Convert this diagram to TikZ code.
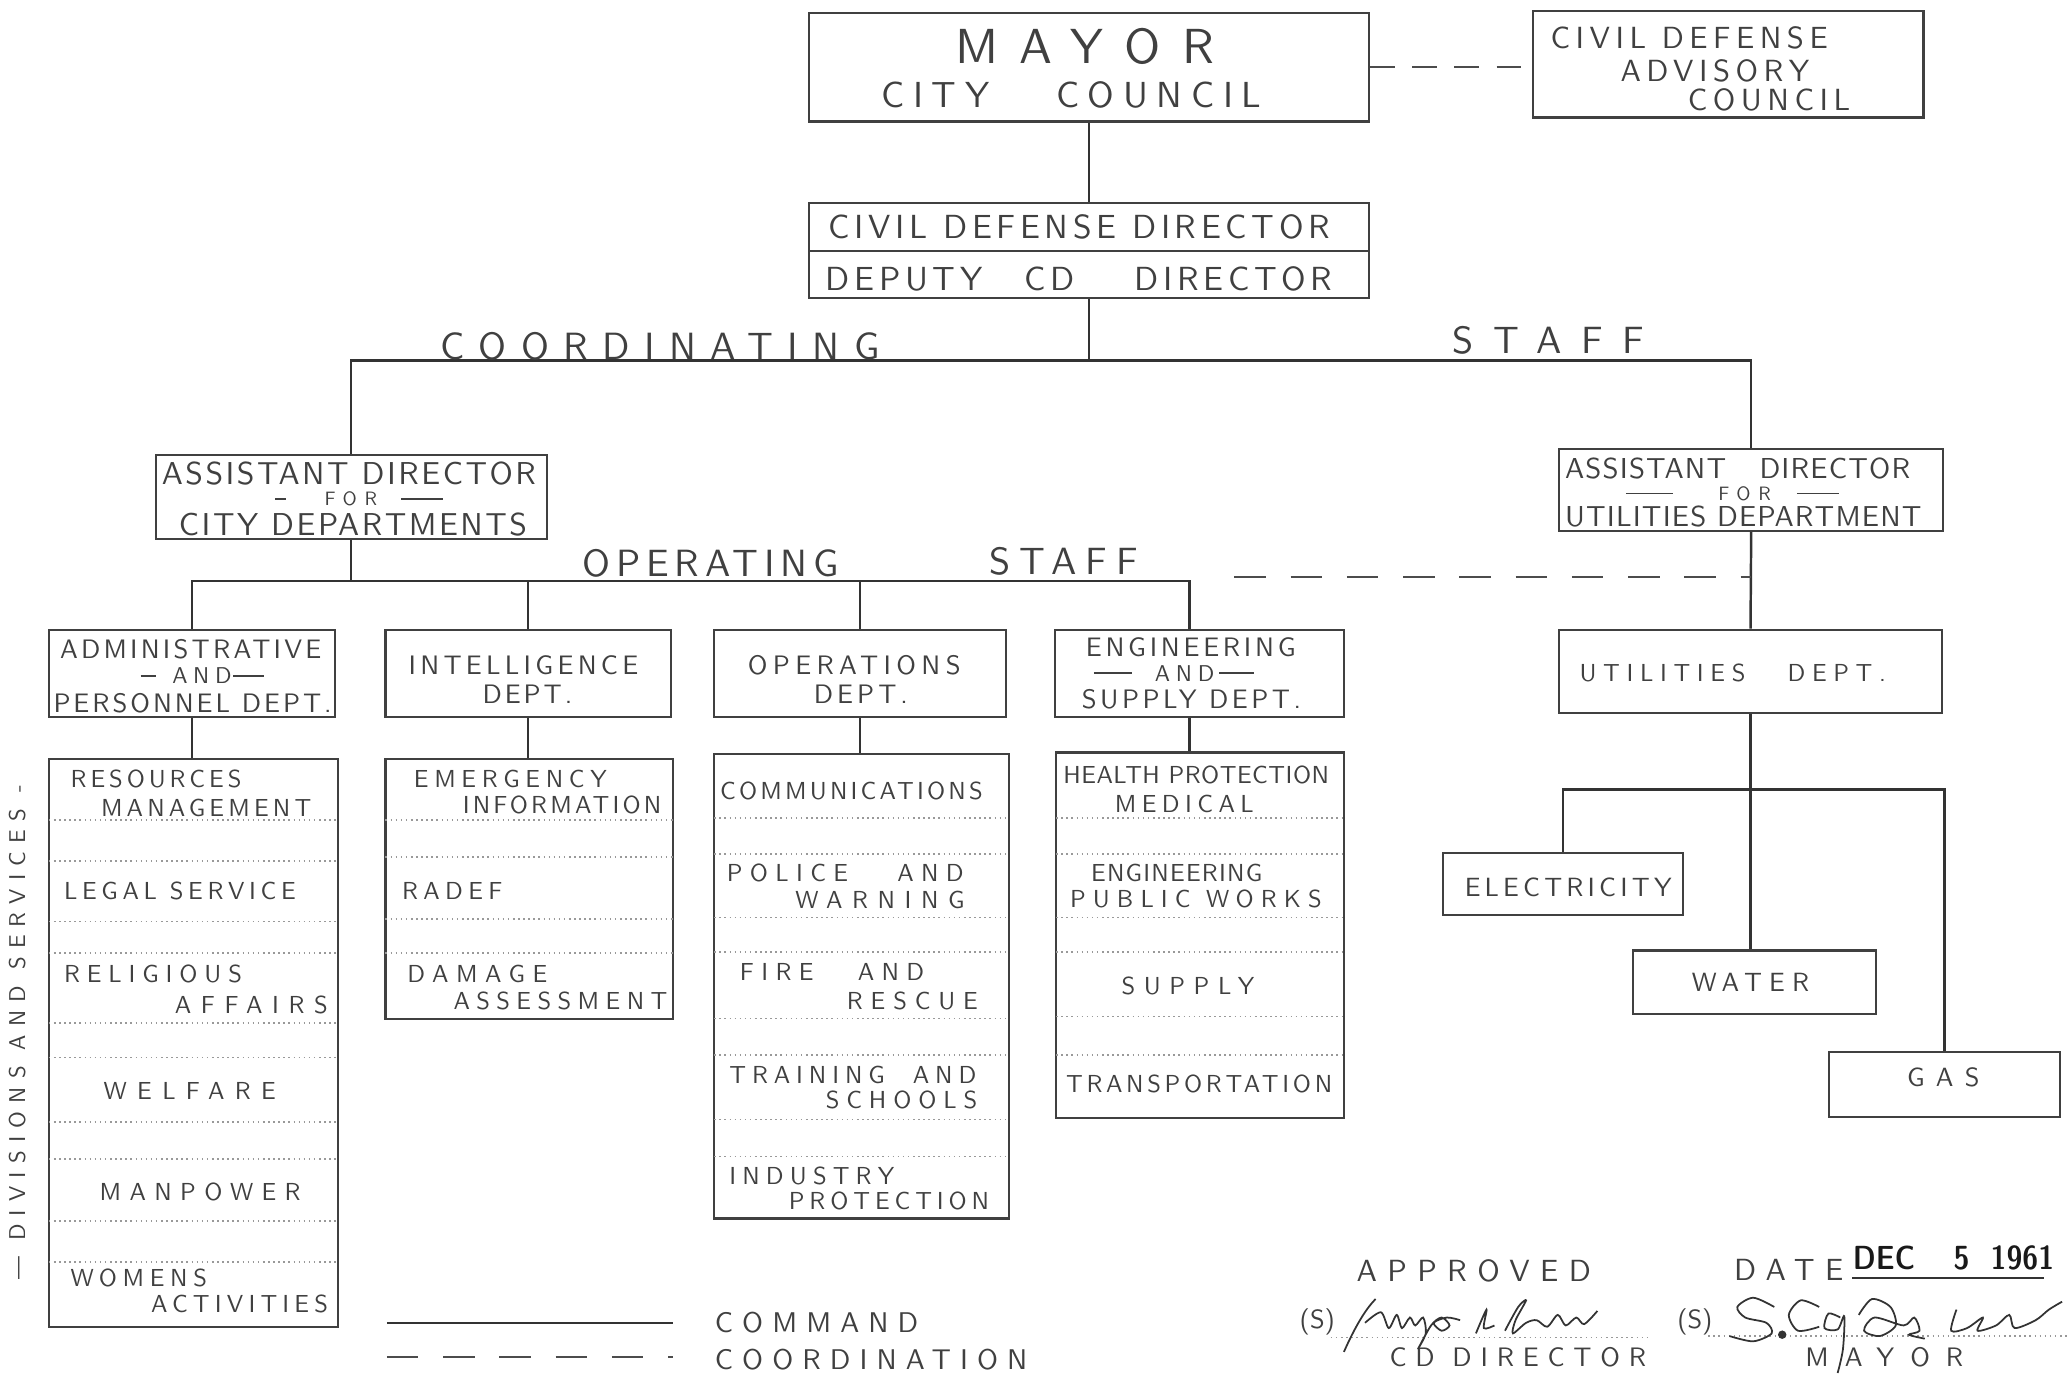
\documentclass[tikz,border=0pt]{standalone}
\usepackage{fontspec}
\newfontfamily\lettering{lmsans10-regular.otf}
\newfontfamily\stampfont{lmsansdemicond10-regular.otf}
\newcommand\sidedash[1]{\rule[0.32em]{#1}{0.45pt}}

\tikzset{
  box/.style={draw=black!75, line width=0.6pt, inner sep=0pt},
  cmd/.style={draw=black!80, line width=0.7pt},
  coordn/.style={draw=black!70, line width=0.6pt, dash pattern=on 9pt off 7pt},
  rule/.style={draw=black!40, line width=0.45pt, densely dotted},
  sig/.style={draw=black!80, line width=0.5pt},
  lbl/.style 2 args={inner sep=0pt, anchor=west, text=black!75,
    font=\lettering\fontsize{#1}{#1}\selectfont\addfontfeatures{LetterSpace=#2}},
}

\begin{document}
\begin{tikzpicture}[x=0.0132cm, y=-0.0132cm]
    \useasboundingbox (0,0) rectangle (1568,1045);

    % top boxes
    \node[box, minimum width=5.597cm, minimum height=1.082cm] (mayor) at (825,51) {};
    \node[box, minimum width=3.907cm, minimum height=1.069cm] (advisory) at (1309,48.5) {};
    \node[box, minimum width=5.597cm, minimum height=0.950cm] (cddir) at (825,190) {};
    \draw[box] (cddir.west) -- (cddir.east);
    \node[box, minimum width=3.907cm, minimum height=0.832cm] (asstcity) at (266,376.5) {};
    \node[box, minimum width=3.841cm, minimum height=0.818cm] (asstutil) at (1326.5,371) {};

    % departments
    \node[box, minimum width=2.864cm, minimum height=0.871cm] (admin) at (145.5,510) {};
    \node[box, minimum width=2.851cm, minimum height=0.871cm] (intel) at (400,510) {};
    \node[box, minimum width=2.917cm, minimum height=0.871cm] (ops) at (651.5,510) {};
    \node[box, minimum width=2.891cm, minimum height=0.871cm] (eng) at (908.5,510) {};
    \node[box, minimum width=3.828cm, minimum height=0.832cm] (utildept) at (1326,508.5) {};
    \node[box, minimum width=2.402cm, minimum height=0.620cm] (elec) at (1184,669.5) {};
    \node[box, minimum width=2.429cm, minimum height=0.634cm] (water) at (1329,744) {};
    \node[box, minimum width=2.310cm, minimum height=0.647cm] (gas) at (1473,821.5) {};

    % divisions and services
    \node[box, minimum width=2.891cm, minimum height=5.676cm] (admincol) at (146.5,790) {};
    \node[box, minimum width=2.878cm, minimum height=2.600cm] (intelcol) at (401,673.5) {};
    \node[box, minimum width=2.944cm, minimum height=4.646cm] (opscol) at (652.5,747) {};
    \node[box, minimum width=2.878cm, minimum height=3.656cm] (engcol) at (909,708.5) {};
    \draw[rule] (37,621) -- (256,621) (37,652) -- (256,652) (37,698) -- (256,698)
        (37,722) -- (256,722) (37,775) -- (256,775) (37,801) -- (256,801)
        (37,850) -- (256,850) (37,878) -- (256,878) (37,925) -- (256,925) (37,956) -- (256,956);
    \draw[rule] (292,621) -- (510,621) (292,649) -- (510,649) (292,696) -- (510,696) (292,722) -- (510,722);
    \draw[rule] (541,619.5) -- (764,619.5) (541,647) -- (764,647) (541,695) -- (764,695)
        (541,721) -- (764,721) (541,771.5) -- (764,771.5) (541,799) -- (764,799)
        (541,848) -- (764,848) (541,876) -- (764,876);
    \draw[rule] (800,619.5) -- (1018,619.5) (800,647) -- (1018,647) (800,695) -- (1018,695)
        (800,721) -- (1018,721) (800,770) -- (1018,770) (800,799) -- (1018,799);

    % command lines
    \coordinate (cbar) at (825,273);
    \coordinate (obar) at (266,440);
    \coordinate (ubar) at (1326,598);
    \draw[cmd] (mayor.south) -- (cddir.north);
    \draw[cmd] (cddir.south) -- (cbar);
    \draw[cmd] (asstcity.north) |- (cbar) -| (asstutil.north);
    \draw[cmd] (asstcity.south) -- (obar);
    \draw[cmd] (admin.north) |- (obar) -| ([xshift=-0.1cm]eng.north);
    \draw[cmd] (intel.north) -- (intel.north |- obar);
    \draw[cmd] (ops.north) -- (ops.north |- obar);
    \draw[cmd] (admin.south) -- (admin.south |- admincol.north);
    \draw[cmd] (intel.south) -- (intel.south |- intelcol.north);
    \draw[cmd] (ops.south) -- (ops.south |- opscol.north);
    \draw[cmd] ([xshift=-0.1cm]eng.south) -- ([xshift=-0.1cm]eng.south |- engcol.north);
    \draw[cmd] (asstutil.south) -- (utildept.north);
    \draw[cmd] (utildept.south) -- (utildept.south |- water.north);
    \draw[cmd] (elec.north) |- (ubar) -| (gas.north);

    % coordination lines
    \coordinate (ostart) at (935,437);
    \draw[coordn, dash pattern=on 7pt off 5pt] (mayor.east) -- (mayor.east -| advisory.west);
    \draw[coordn] (ostart) -- (ostart -| asstutil.south);

    % labels
    \node[lbl={14}{44}] (tmayor) at (723,35) {MAYOR};
    \node[lbl={10.3}{24}] (tcouncil) at (667,72) {CITY\hspace{19pt}COUNCIL};
    \node[lbl={8.7}{18}] (tadvA) at (1174,29) {CIVIL DEFENSE};
    \node[lbl={8.7}{18}] (tadvB) at (1227,54) {ADVISORY};
    \node[lbl={8.7}{18}] (tadvC) at (1278,76) {COUNCIL};
    \node[lbl={9.5}{14}] (tdir) at (627,172) {CIVIL DEFENSE DIRECTOR};
    \node[lbl={9.5}{14}] (tdep) at (625,211) {DEPUTY\hspace{12pt}CD\hspace{17pt}DIRECTOR};
    \node[lbl={10.8}{38}] (tcoord) at (333,262) {COORDINATING};
    \node[lbl={10.8}{52}] (tstaffA) at (1100,258) {STAFF};
    \node[lbl={9}{8}] (tacA) at (122,359) {ASSISTANT DIRECTOR};
    \node[lbl={5.5}{40}] (tacB) at (208,378) {\sidedash{3pt}\hspace{11pt}FOR\hspace{6.8pt}\sidedash{12pt}};
    \node[lbl={9}{8}] (tacC) at (135,397) {CITY DEPARTMENTS};
    \node[lbl={8.2}{4}] (tauA) at (1185,355) {ASSISTANT\hspace{9.5pt}DIRECTOR};
    \node[lbl={5.5}{40}] (tauB) at (1231,374) {\sidedash{13.5pt}\hspace{12.8pt}FOR\hspace{7.4pt}\sidedash{12pt}};
    \node[lbl={8.2}{4}] (tauC) at (1185,391) {UTILITIES DEPARTMENT};
    \node[lbl={10.8}{15}] (toper) at (441,427) {OPERATING};
    \node[lbl={10.8}{24}] (tstaffB) at (749,425) {STAFF};

    \node[lbl={7.6}{12}] (tadmA) at (45,492) {ADMINISTRATIVE};
    \node[lbl={6.5}{25}] (tadmB) at (106,512) {\sidedash{4.5pt}\hspace{4.5pt}AND\hspace{0.5pt}\sidedash{8.6pt}};
    \node[lbl={7.6}{11}] (tadmC) at (40,533) {PERSONNEL DEPT.};
    \node[lbl={7.6}{16}] (tintA) at (309,504) {INTELLIGENCE};
    \node[lbl={7.6}{11}] (tintB) at (365,526) {DEPT.};
    \node[lbl={7.6}{20}] (topsA) at (566,504) {OPERATIONS};
    \node[lbl={7.6}{15}] (topsB) at (616,526) {DEPT.};
    \node[lbl={7.6}{14}] (tengA) at (822,490) {ENGINEERING};
    \node[lbl={6.5}{25}] (tengB) at (828,510) {\sidedash{11pt}\hspace{6.4pt}AND\hspace{1.4pt}\sidedash{10pt}};
    \node[lbl={7.6}{13}] (tengC) at (819,530) {SUPPLY DEPT.};
    \node[lbl={7}{27}] (tutil) at (1196,510) {UTILITIES\hspace{12pt}DEPT.};
    \node[lbl={7.5}{16}] (telec) at (1109,672) {ELECTRICITY};
    \node[lbl={7.5}{27}] (twater) at (1281,744) {WATER};
    \node[lbl={7.5}{43}] (tgas) at (1444,816) {GAS};

    \node[lbl={7}{16}] (tres) at (53,590) {RESOURCES};
    \node[lbl={7}{17}] (tman) at (76,612) {MANAGEMENT};
    \node[lbl={7}{19}] (tlegal) at (48,675) {LEGAL SERVICE};
    \node[lbl={7}{28}] (trel) at (48,738) {RELIGIOUS};
    \node[lbl={7}{39}] (taff) at (132,761) {AFFAIRS};
    \node[lbl={7}{42}] (twel) at (78,826) {WELFARE};
    \node[lbl={7}{34}] (tmanp) at (75,903) {MANPOWER};
    \node[lbl={7}{23}] (twom) at (53,968) {WOMENS};
    \node[lbl={7}{21}] (tact) at (114,988) {ACTIVITIES};
    \node[lbl={7}{23}] (temer) at (313,590) {EMERGENCY};
    \node[lbl={7}{13}] (tinfo) at (350,610) {INFORMATION};
    \node[lbl={7}{22}] (tradef) at (304,675) {RADEF};
    \node[lbl={7}{31}] (tdam) at (308,738) {DAMAGE};
    \node[lbl={7}{26}] (tass) at (343,758) {ASSESSMENT};
    \node[lbl={7}{13}] (tcomm) at (545,599) {COMMUNICATIONS};
    \node[lbl={7}{30}] (tpol) at (550,661) {POLICE\hspace{14pt}AND};
    \node[lbl={7}{39}] (twarn) at (602,682) {WARNING};
    \node[lbl={7}{30}] (tfire) at (560,736) {FIRE\hspace{12.6pt}AND};
    \node[lbl={7}{32}] (tresc) at (641,758) {RESCUE};
    \node[lbl={7}{24}] (ttrain) at (552,814) {TRAINING\hspace{8pt}AND};
    \node[lbl={7}{28}] (tsch) at (625,833) {SCHOOLS};
    \node[lbl={7}{25}] (tind) at (552,891) {INDUSTRY};
    \node[lbl={7}{20}] (tprot) at (597,910) {PROTECTION};
    \node[lbl={7}{2}] (thealth) at (805,587) {HEALTH PROTECTION};
    \node[lbl={7}{22}] (tmed) at (844,609) {MEDICAL};
    \node[lbl={7}{5}] (tengr) at (826,661) {ENGINEERING};
    \node[lbl={7}{29}] (tpub) at (810,681) {PUBLIC WORKS};
    \node[lbl={7}{35}] (tsup) at (849,747) {SUPPLY};
    \node[lbl={7}{15}] (ttrans) at (807,821) {TRANSPORTATION};

    \node[lbl={6.5}{36}, anchor=center, rotate=90] (tdiv) at (13,782) {— DIVISIONS AND SERVICES -};

    % legend
    \coordinate (cmdA) at (293,1002);
    \coordinate (cooA) at (293,1028);
    \draw[cmd, line width=0.5pt] (cmdA) -- ++(217,0);
    \draw[coordn] (cooA) -- ++(217,0);
    \node[lbl={8.1}{32}] (tcmd) at (541,1002) {COMMAND};
    \node[lbl={8.1}{32}] (tcoo) at (541,1030) {COORDINATION};

    % approval
    \node[lbl={8.7}{34}] (tappr) at (1027,963) {APPROVED};
    \node[lbl={8.7}{34}] (tdate) at (1313,962) {DATE};
    \node[inner sep=0pt, anchor=west, text=black!90, font=\stampfont\fontsize{9.5}{9.5}\selectfont] (tstamp) at (1403,953) {DEC\hspace{11pt}5\hspace{6pt}1961};
    \draw[sig, line width=0.4pt] (1403,968) -- (1548,968);
    \node[lbl={7.5}{0}] (tsA) at (984,1001) {(S)};
    \node[lbl={7.5}{0}] (tsB) at (1270,1001) {(S)};
    \draw[rule] (1008,1013) -- (1250,1013);
    \draw[rule] (1294,1012) -- (1568,1012);
    \node[lbl={7.6}{33}] (tcdd) at (1052,1028) {CD DIRECTOR};
    \node[lbl={7.6}{60}] (tmayorB) at (1367,1028) {MAYOR};

    % signatures
    \draw[sig] (1018,1024) .. controls (1026,1006) and (1034,992) .. (1042,984);
    \draw[sig] plot[smooth] coordinates {(1034,1002) (1046,994) (1052,1006) (1058,996) (1062,1006) (1068,998) (1072,1004) (1078,998) (1080,1010) (1074,1022) (1084,1004) (1092,998) (1098,1004) (1092,1008) (1086,1002) (1096,998) (1106,1000)};
    \draw[sig] plot[smooth] coordinates {(1118,1010) (1126,992) (1124,1006) (1132,1004)};
    \draw[sig] plot[smooth] coordinates {(1140,1008) (1150,990) (1156,985) (1148,1000) (1146,1010) (1156,1002) (1164,1000) (1172,1005) (1180,996) (1186,1004) (1194,998) (1200,1003) (1210,993)};
    \draw[sig] plot[smooth] coordinates {(1344,990) (1328,983) (1316,990) (1322,998) (1338,1002) (1342,1010) (1328,1016) (1310,1012)};
    \fill[black!80] (1350,1011) circle (1.2pt);
    \draw[sig] plot[smooth] coordinates {(1378,990) (1364,985) (1355,996) (1362,1008) (1378,1005)};
    \draw[sig] plot[smooth] coordinates {(1394,998) (1385,995) (1382,1006) (1392,1007) (1397,997) (1396,1022) (1392,1040)};
    \draw[sig] plot[smooth] coordinates {(1408,996) (1418,984) (1432,990) (1436,1004) (1424,1012) (1412,1008) (1420,998) (1442,1004) (1450,998) (1454,1008) (1446,1011) (1458,1014)};
    \draw[sig] plot[smooth] coordinates {(1482,992) (1478,1008) (1490,1006) (1502,998) (1498,1008) (1512,1004) (1522,996) (1526,1006) (1542,1000) (1552,992) (1562,986)};
\end{tikzpicture}
\end{document}
